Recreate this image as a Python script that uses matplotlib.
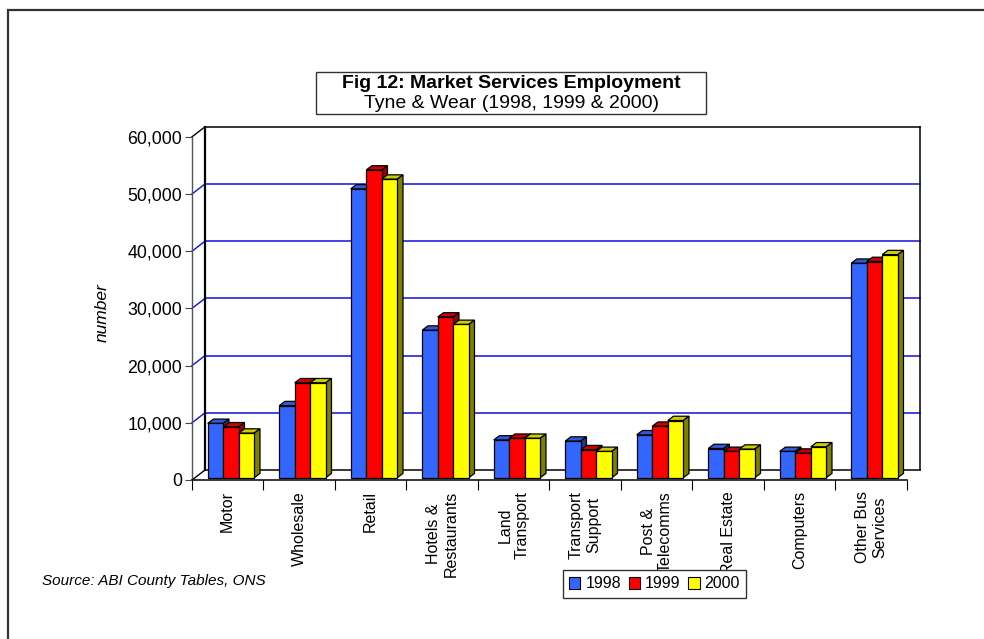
import matplotlib
matplotlib.use("Agg")
import matplotlib.pyplot as plt
from matplotlib.patches import Polygon, Rectangle, Patch

plt.rcParams['font.family'] = ['Liberation Sans', 'DejaVu Sans']

categories = ["Motor", "Wholesale", "Retail", "Hotels &\nRestaurants", "Land\nTransport",
              "Transport\nSupport", "Post &\nTelecomms", "Real Estate", "Computers",
              "Other Bus\nServices"]
years = ["1998", "1999", "2000"]
v1998 = [9500, 12600, 50500, 25800, 6600, 6400, 7500, 5100, 4600, 37500]
v1999 = [8900, 16600, 53800, 28100, 6900, 4900, 9000, 4600, 4300, 37800]
v2000 = [7800, 16600, 52200, 26800, 6900, 4600, 10000, 5000, 5400, 39000]
yticks = [0, 10000, 20000, 30000, 40000, 50000, 60000]

front_cols = ["#3366FF", "#FF0000", "#FFFF00"]
top_cols = ["#2F5AD8", "#CC0000", "#CCCC00"]
side_cols = ["#1F3A99", "#990000", "#808000"]

W, H = 984, 639
fig = plt.figure(figsize=(W / 100, H / 100), dpi=100)

# wall depth (data units) and bar depth
DX, DY = 0.182, 1750
bdx, bdy = 0.08, 750
B0 = 400
bw = 0.217
x_start = 0.22

ax = fig.add_axes([192 / W, (H - 480) / H, 728 / W, 353.2 / H])
ax.set_xlim(0, 10 + DX)
ax.set_ylim(0, 60000 + DY)
for s in ax.spines.values():
    s.set_visible(False)

# back wall and side wall
for v in yticks:
    c = "black" if v in (0, 60000) else "#1010E0"
    ax.plot([DX, 10 + DX], [v + DY, v + DY], color=c, lw=1.1, zorder=1, clip_on=False)
    ax.plot([0, DX], [v, v + DY], color=c, lw=1.0, zorder=1, clip_on=False)
ax.plot([DX, DX], [DY, 60000 + DY], color="black", lw=1.6, zorder=1, clip_on=False)
ax.plot([10 + DX, 10 + DX], [DY, 60000 + DY], color="black", lw=1.1, zorder=1, clip_on=False)
ax.plot([0, 0], [0, 60000], color="#555555", lw=1.0, zorder=1, clip_on=False)
ax.plot([0, 10], [0, 0], color="black", lw=1.1, zorder=1, clip_on=False)

# bars
series = [v1998, v1999, v2000]
for j, vals in enumerate(series):
    xs = [i + x_start + j * bw for i in range(len(categories))]
    ax.bar(xs, vals, width=bw, bottom=B0, align="edge", color=front_cols[j],
           edgecolor="black", linewidth=0.9, zorder=4 + 2 * j)
    for x, v in zip(xs, vals):
        top = [(x, B0 + v), (x + bw, B0 + v), (x + bw + bdx, B0 + v + bdy), (x + bdx, B0 + v + bdy)]
        side = [(x + bw, B0), (x + bw + bdx, B0 + bdy), (x + bw + bdx, B0 + v + bdy), (x + bw, B0 + v)]
        ax.add_patch(Polygon(top, closed=True, facecolor=top_cols[j], edgecolor="black",
                             linewidth=0.9, zorder=3 + 2 * j))
        ax.add_patch(Polygon(side, closed=True, facecolor=side_cols[j], edgecolor="black",
                             linewidth=0.9, zorder=3 + 2 * j))

ax.set_yticks(yticks)
ax.set_yticklabels([f"{v:,}" for v in yticks], fontsize=12.8)
ax.tick_params(axis="y", length=5, color="#444444", pad=2)
ax.set_xticks(range(0, 11))
ax.set_xticklabels([])
ax.tick_params(axis="x", which="major", length=7, color="black")
ax.set_xticks([i + 0.5 for i in range(len(categories))], minor=True)
ax.set_xticklabels(categories, minor=True, rotation=90, fontsize=11.5,
                   va="top", ha="center", multialignment="center")
ax.tick_params(axis="x", which="minor", length=0, pad=8)

fig.text(102 / W, 1 - 313 / H, "number", rotation=90, style="italic", fontsize=12.5,
         ha="center", va="center")

# title box
fig.add_artist(Rectangle((316 / W, 1 - 114 / H), 390 / W, 42 / H, transform=fig.transFigure,
                         fill=False, edgecolor="#333333", lw=1.0))
fig.text(511 / W, 1 - 83 / H, "Fig 12: Market Services Employment", fontsize=14,
         fontweight="bold", ha="center", va="center")
fig.text(511 / W, 1 - 103.5 / H, "Tyne & Wear (1998, 1999 & 2000)", fontsize=14,
         ha="center", va="center")

fig.text(42 / W, 1 - 581 / H, "Source: ABI County Tables, ONS", style="italic",
         fontsize=11, ha="left", va="center")

handles = [Patch(facecolor=c, edgecolor="black", linewidth=0.8) for c in front_cols]
leg = fig.legend(handles, years, loc="center", bbox_to_anchor=(654.5 / W, 1 - 584 / H),
                 ncol=3, fontsize=11.5, handlelength=0.7, handleheight=0.7,
                 handletextpad=0.3, columnspacing=0.5, borderpad=0.4,
                 fancybox=False, framealpha=1)
leg.get_frame().set_edgecolor("#333333")
leg.get_frame().set_linewidth(1.0)

# outer chart border (left and top edges visible)
fig.add_artist(Rectangle((8 / W, -0.1), 1.2, 1.1 - 10 / H, transform=fig.transFigure,
                         fill=False, edgecolor="#333333", lw=1.6))

fig.savefig("out.png", dpi=100)
